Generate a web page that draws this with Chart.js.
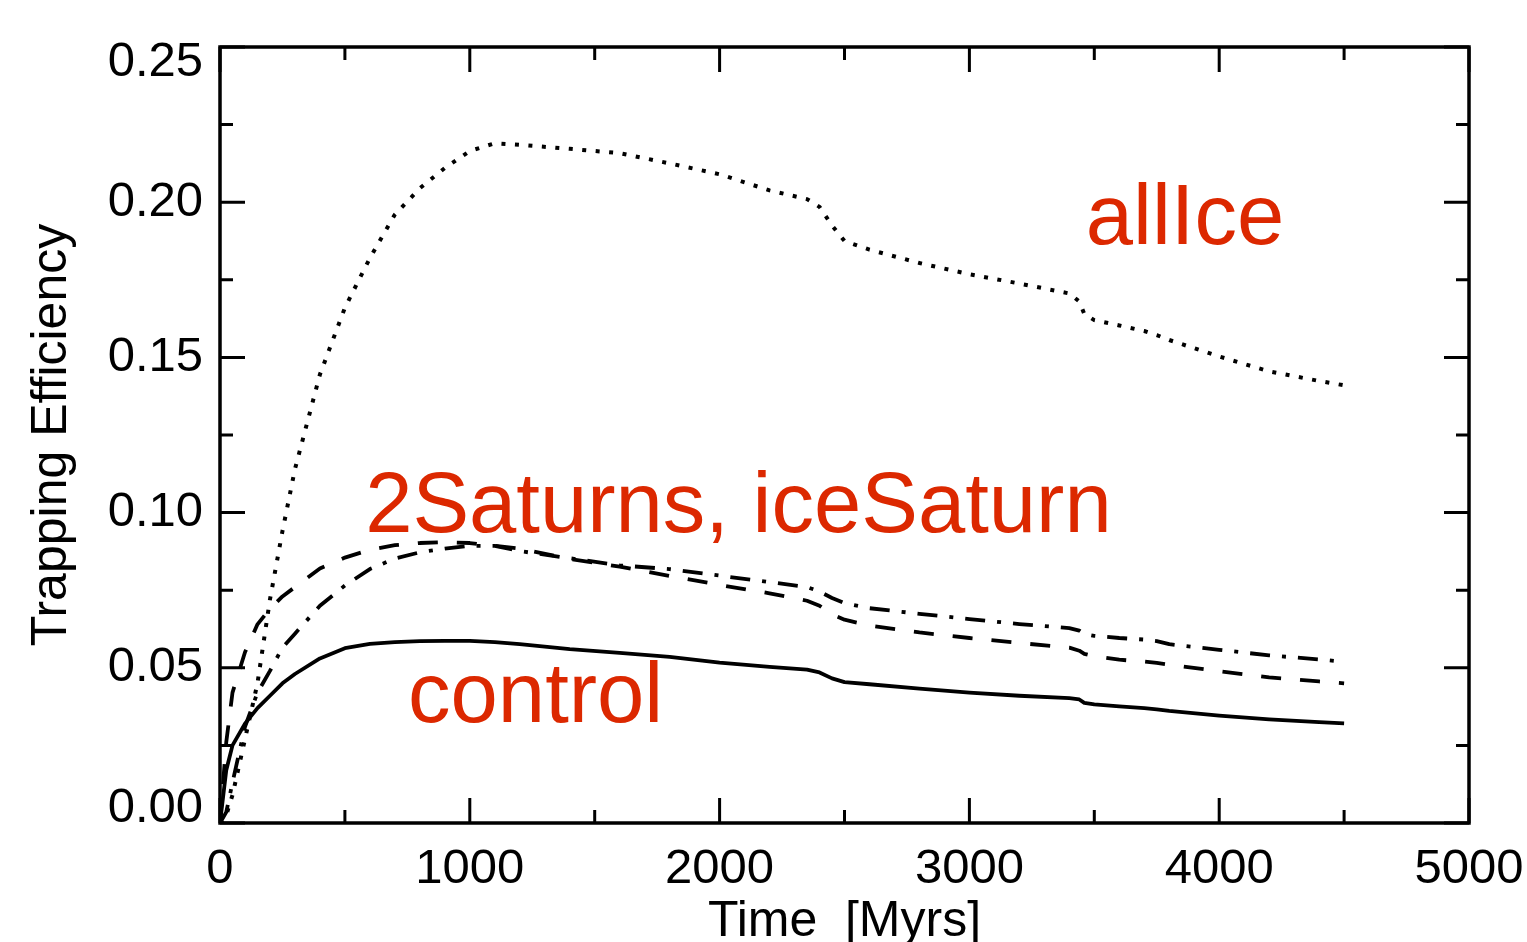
<!DOCTYPE html>
<html>
<head>
<meta charset="utf-8">
<script src="https://cdn.jsdelivr.net/npm/chart.js"></script>
<style>
  html, body { margin: 0; padding: 0; background: #ffffff; }
  #wrap { width: 1527px; height: 942px; }
</style>
</head>
<body>
<div id="wrap"><canvas id="trapChart" width="1527" height="942"></canvas></div>
<script>
// Time samples (Myrs) shared by every run
const timeMyr = [0, 25, 50, 100, 150, 200, 250, 300, 400, 500, 600, 700, 800, 900, 1000,
  1100, 1200, 1400, 1600, 1800, 2000, 2200, 2350, 2400, 2450, 2500, 2600, 2800, 3000,
  3200, 3400, 3440, 3460, 3500, 3600, 3700, 3750, 3800, 4000, 4200, 4400, 4500];

// Trapping efficiency
const controlRun = [0.0, 0.017, 0.025, 0.032, 0.037, 0.041, 0.045, 0.048, 0.053, 0.0563, 0.0577,
  0.0583, 0.0586, 0.0587, 0.0587, 0.0583, 0.0576, 0.0560, 0.0548, 0.0535, 0.0517, 0.0503,
  0.0494, 0.0485, 0.0466, 0.0454, 0.0447, 0.0433, 0.0420, 0.0410, 0.0402, 0.0398, 0.0387,
  0.0382, 0.0376, 0.0370, 0.0366, 0.0361, 0.0346, 0.0334, 0.0325, 0.0321];

const twoSaturnsRun = [0.0, 0.026, 0.042, 0.055, 0.064, 0.069, 0.073, 0.076, 0.082, 0.0855, 0.088,
  0.0895, 0.0902, 0.0905, 0.0902, 0.0893, 0.0884, 0.0851, 0.0826, 0.0796, 0.0767, 0.0740,
  0.0716, 0.0700, 0.0672, 0.0655, 0.0636, 0.0614, 0.0596, 0.0580, 0.0565, 0.0555, 0.0545,
  0.0537, 0.0526, 0.0520, 0.0516, 0.0510, 0.0489, 0.0469, 0.0456, 0.0450];

const iceSaturnRun = [0.0, 0.0035, 0.013, 0.031, 0.042, 0.049, 0.0565, 0.061, 0.070, 0.0765, 0.0818,
  0.0852, 0.0872, 0.0884, 0.0893, 0.0893, 0.0876, 0.0853, 0.0830, 0.0818, 0.0797, 0.0776,
  0.0760, 0.0746, 0.0725, 0.0708, 0.0692, 0.0674, 0.0657, 0.0641, 0.0628, 0.0620, 0.0609,
  0.0603, 0.0596, 0.0591, 0.0586, 0.0576, 0.0558, 0.0540, 0.0527, 0.0519];

const allIceRun = [0.0, 0.0025, 0.009, 0.027, 0.045, 0.072, 0.094, 0.114, 0.1445, 0.166, 0.182,
  0.196, 0.2045, 0.211, 0.2165, 0.219, 0.2185, 0.2172, 0.2158, 0.2125, 0.2090, 0.2038,
  0.2010, 0.1985, 0.1925, 0.1875, 0.1847, 0.1804, 0.1768, 0.1738, 0.1706, 0.1680, 0.1640,
  0.1620, 0.1603, 0.1585, 0.1572, 0.1556, 0.1503, 0.1455, 0.1424, 0.1410];

// Axis ticks
const xTicks = [0, 1000, 2000, 3000, 4000, 5000];
const yTicks = [0.00, 0.05, 0.10, 0.15, 0.20, 0.25];

// Red labels placed in data units (left edge, baseline)
const noteText = ["allIce", "2Saturns, iceSaturn", "control"];
const noteTime = [3466, 581, 753];
const noteValue = [0.1866, 0.0936, 0.0325];

const RED = "#dc2800";
const FONT = "'Liberation Sans', Arial, Helvetica, sans-serif";

function toPoints(values) {
  return timeMyr.map((t, i) => ({ x: t, y: values[i] }));
}

function isEndTick(v) {
  return v === yTicks[0] || v === yTicks[yTicks.length - 1];
}

// Box frame with inward major/minor ticks on all four sides
const frameTicks = {
  id: "frameTicks",
  afterDraw(chart) {
    const { ctx, chartArea: a, scales } = chart;
    const xs = scales.x, ys = scales.y;
    ctx.save();
    ctx.strokeStyle = "#000";
    ctx.lineWidth = 3.5;
    ctx.lineCap = "square";
    ctx.strokeRect(a.left, a.top, a.right - a.left, a.bottom - a.top);
    ctx.lineWidth = 3;
    ctx.lineCap = "butt";
    ctx.beginPath();
    for (let v = 0; v <= 5000; v += 500) {
      const len = v % 1000 === 0 ? 25 : 13;
      const px = xs.getPixelForValue(v);
      ctx.moveTo(px, a.bottom); ctx.lineTo(px, a.bottom - len);
      ctx.moveTo(px, a.top); ctx.lineTo(px, a.top + len);
    }
    for (let k = 0; k <= 10; k++) {
      const v = k * 0.025;
      const len = k % 2 === 0 ? 25 : 13;
      const py = ys.getPixelForValue(v);
      ctx.moveTo(a.left, py); ctx.lineTo(a.left + len, py);
      ctx.moveTo(a.right, py); ctx.lineTo(a.right - len, py);
    }
    ctx.stroke();

    // annotations
    ctx.fillStyle = RED;
    ctx.font = "85px " + FONT;
    ctx.textAlign = "left";
    ctx.textBaseline = "alphabetic";
    noteText.forEach((txt, i) => {
      ctx.fillText(txt, xs.getPixelForValue(noteTime[i]), ys.getPixelForValue(noteValue[i]));
    });
    ctx.restore();
  }
};

function createChart() {
  const ctx = document.getElementById("trapChart");

  const data = {
    datasets: [
      {
        label: "control",
        data: toPoints(controlRun),
        borderColor: "#000",
        borderWidth: 3.8,
      },
      {
        label: "2Saturns",
        data: toPoints(twoSaturnsRun),
        borderColor: "#000",
        borderWidth: 3.8,
        borderDash: [20, 19],
      },
      {
        label: "iceSaturn",
        data: toPoints(iceSaturnRun),
        borderColor: "#000",
        borderWidth: 3.8,
        borderDash: [20, 12, 4, 12],
      },
      {
        label: "allIce",
        data: toPoints(allIceRun),
        borderColor: "#000",
        borderWidth: 4,
        borderDash: [4, 9.5],
      },
    ],
  };

  const config = {
    type: "line",
    data: data,
    options: {
      responsive: false,
      animation: false,
      layout: { padding: { top: 46, right: 58, left: 0, bottom: 0 } },
      elements: {
        point: { radius: 0 },
        line: { tension: 0, fill: false, borderCapStyle: "butt", borderJoinStyle: "round" },
      },
      scales: {
        x: {
          type: "linear",
          min: 0,
          max: 5000,
          afterBuildTicks: (scale) => { scale.ticks = xTicks.map((v) => ({ value: v })); },
          afterFit: (scale) => {
            scale.height = 119;
            scale.paddingLeft = 0;
            scale.paddingRight = 0;
          },
          grid: { display: false, drawTicks: false },
          border: { display: false },
          ticks: {
            padding: 17,
            color: "#000",
            font: { family: FONT, size: 49 },
            maxRotation: 0,
            callback: (v) => String(v),
          },
          title: {
            display: true,
            text: "Time  [Myrs]",
            color: "#000",
            font: { family: FONT, size: 50 },
            padding: { top: 0, bottom: -10 },
          },
        },
        y: {
          min: 0,
          max: 0.25,
          afterBuildTicks: (scale) => { scale.ticks = yTicks.map((v) => ({ value: v })); },
          afterFit: (scale) => { scale.width = 220; },
          grid: { display: false, drawTicks: false },
          border: { display: false },
          ticks: {
            padding: 17,
            color: "#000",
            // end labels sit slightly inside the frame, as in the original plot
            font: (c) => ({
              family: FONT,
              size: 49,
              lineHeight: c.tick && isEndTick(c.tick.value) ? "30px" : 1.2,
            }),
            callback: (v) => {
              const s = Number(v).toFixed(2);
              if (v === yTicks[0]) return [s, ""];
              if (v === yTicks[yTicks.length - 1]) return ["", s];
              return s;
            },
          },
          title: {
            display: true,
            text: "Trapping Efficiency",
            color: "#000",
            font: { family: FONT, size: 50 },
            padding: { top: 22, bottom: 0 },
          },
        },
      },
      plugins: {
        legend: { display: false },
        tooltip: { enabled: false },
      },
    },
    plugins: [frameTicks],
  };

  new Chart(ctx.getContext("2d"), config);
}

createChart();
</script>
</body>
</html>
